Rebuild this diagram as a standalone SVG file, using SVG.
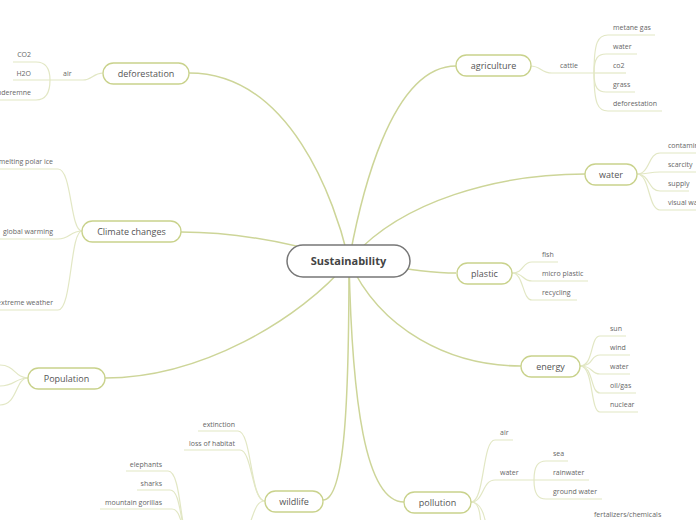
<svg xmlns="http://www.w3.org/2000/svg" width="696" height="520" viewBox="0 0 696 520">
<style>
.main{fill:none;stroke:#cdd598;stroke-width:1.5}
.sub{fill:none;stroke:#e2e7c4;stroke-width:1.2}
.node rect{fill:#fff;stroke:#c9d28c;stroke-width:1.3}
.node text{font-family:"Open Sans","DejaVu Sans",sans-serif;font-size:9px;fill:#555;text-anchor:middle}
.leaf{font-family:"Open Sans","DejaVu Sans",sans-serif;font-size:7px;fill:#666}
.r{text-anchor:end}
</style>
<rect width="696" height="520" fill="#fff"/>
<g id="connectors">
<path class="main" d="M349,261 C360,200 390,66 456,66"/>
<path class="main" d="M349,261 C335,200 290,73 189,73"/>
<path class="main" d="M349,261 C300,245 240,232 181,232"/>
<path class="main" d="M349,261 C300,320 200,378 105,378"/>
<path class="main" d="M349,261 C349,400 345,500 323,500"/>
<path class="main" d="M349,261 C352,400 365,502 404,502"/>
<path class="main" d="M349,261 C380,330 450,366 521,366"/>
<path class="main" d="M349,261 C400,268 430,273 456,273"/>
<path class="main" d="M349,261 C400,200 500,174 585,174"/>
<!-- deforestation -->
<path class="sub" d="M103,73 C93,73 92,80 83,80 H50"/>
<path class="sub" d="M50,80 C50,68 46,62 36,62 H13"/>
<path class="sub" d="M50,80 H13"/>
<path class="sub" d="M50,80 C50,92 46,100 36,100 H0"/>
<!-- climate -->
<path class="sub" d="M82,231 C70,231 72,169 58,169 H0"/>
<path class="sub" d="M82,231 C70,231 70,239 58,239 H0"/>
<path class="sub" d="M82,231 C70,231 72,310 58,310 H0"/>
<!-- population -->
<path class="sub" d="M28,378 C15,378 15,365 0,365"/>
<path class="sub" d="M28,378 C15,378 15,386 0,386"/>
<path class="sub" d="M28,378 C15,378 18,405 0,405"/>
<!-- wildlife -->
<path class="sub" d="M265,501 C250,501 252,431 238,431 H198"/>
<path class="sub" d="M265,501 C252,501 252,450 240,450 H184"/>
<path class="sub" d="M265,501 C255,501 254,515 248,528"/>
<path class="sub" d="M186,535 C180,520 180,471 168,471 H126"/>
<path class="sub" d="M186,535 C180,520 180,490 170,490 H137"/>
<path class="sub" d="M186,535 C181,525 180,509 172,509 H100"/>
<!-- pollution -->
<path class="sub" d="M471,502 C485,502 482,440 495,440 H513"/>
<path class="sub" d="M471,502 C484,502 482,480 495,480 H534"/>
<path class="sub" d="M534,480 C534,466 538,461 546,461 H568"/>
<path class="sub" d="M534,480 H589"/>
<path class="sub" d="M534,480 C534,494 538,499 546,499 H602"/>
<path class="sub" d="M471,502 C478,502 480,510 481,525"/>
<path class="sub" d="M471,502 C480,502 484,512 486,525"/>
<!-- agriculture -->
<path class="sub" d="M530,66 C542,66 540,73 552,73 H594"/>
<path class="sub" d="M594,73 C594,42 598,35 608,35 H655"/>
<path class="sub" d="M594,73 C594,58 598,54 606,54 H637"/>
<path class="sub" d="M594,73 H626"/>
<path class="sub" d="M594,73 C594,88 598,92 606,92 H635"/>
<path class="sub" d="M594,73 C594,104 598,111 608,111 H662"/>
<!-- water -->
<path class="sub" d="M637,174 C650,174 648,153 660,153 H696"/>
<path class="sub" d="M637,174 C650,174 648,172 660,172 H696"/>
<path class="sub" d="M637,174 C650,174 648,191 660,191 H689"/>
<path class="sub" d="M637,174 C650,174 648,210 660,210 H696"/>
<!-- plastic -->
<path class="sub" d="M512,273 C524,273 522,262 532,262 H558"/>
<path class="sub" d="M512,273 C524,273 522,281 532,281 H588"/>
<path class="sub" d="M512,273 C524,273 522,300 532,300 H577"/>
<!-- energy -->
<path class="sub" d="M580,366 C594,366 590,336 600,336 H626"/>
<path class="sub" d="M580,366 C594,366 590,355 600,355 H630"/>
<path class="sub" d="M580,366 C594,366 590,374 600,374 H630"/>
<path class="sub" d="M580,366 C594,366 590,393 600,393 H636"/>
<path class="sub" d="M580,366 C594,366 590,412 600,412 H638"/>
</g>
<g id="sustainability"><rect x="287" y="245" width="123" height="32" rx="16" fill="#fff" stroke="#777" stroke-width="1.5"/><text x="348.5" y="265" font-family="'Open Sans','DejaVu Sans',sans-serif" font-size="11" font-weight="bold" fill="#444" text-anchor="middle">Sustainability</text></g>
<g id="agriculture" class="node"><rect x="456" y="55" width="75" height="21" rx="10.5"/><text x="493.5" y="68.5">agriculture</text></g>
<g id="deforestation" class="node"><rect x="103" y="63" width="86" height="21" rx="10.5"/><text x="146" y="76.5">deforestation</text></g>
<g id="climate" class="node"><rect x="82" y="221" width="99" height="21" rx="10.5"/><text x="131.5" y="234.5">Climate changes</text></g>
<g id="population" class="node"><rect x="28" y="368" width="77" height="21" rx="10.5"/><text x="66.5" y="381.5">Population</text></g>
<g id="wildlife" class="node"><rect x="265" y="491" width="58" height="21" rx="10.5"/><text x="294" y="504.5">wildlife</text></g>
<g id="pollution" class="node"><rect x="404" y="492" width="67" height="21" rx="10.5"/><text x="437.5" y="505.5">pollution</text></g>
<g id="energy" class="node"><rect x="521" y="356" width="59" height="21" rx="10.5"/><text x="550.5" y="369.5">energy</text></g>
<g id="plastic" class="node"><rect x="457" y="263" width="55" height="21" rx="10.5"/><text x="484.5" y="276.5">plastic</text></g>
<g id="water" class="node"><rect x="585" y="164" width="52" height="21" rx="10.5"/><text x="611" y="177.5">water</text></g>
<g id="labels">
<text class="leaf" x="63" y="75.5">air</text>
<text class="leaf r" x="31" y="57">CO2</text>
<text class="leaf r" x="31" y="75.5">H2O</text>
<text class="leaf r" x="31" y="94.5">underemne</text>
<text class="leaf r" x="53" y="164">melting polar ice</text>
<text class="leaf r" x="53" y="234">global warming</text>
<text class="leaf r" x="53" y="305">extreme weather</text>
<text class="leaf r" x="235" y="426.5">extinction</text>
<text class="leaf r" x="235" y="445.5">loss of habitat</text>
<text class="leaf r" x="162" y="466.5">elephants</text>
<text class="leaf r" x="162" y="485.5">sharks</text>
<text class="leaf r" x="162" y="504.5">mountain gorillas</text>
<text class="leaf" x="500" y="435">air</text>
<text class="leaf" x="500" y="475">water</text>
<text class="leaf" x="553" y="456">sea</text>
<text class="leaf" x="553" y="475">rainwater</text>
<text class="leaf" x="553" y="494">ground water</text>
<text class="leaf" x="594" y="516.5">fertalizers/chemicals</text>
<text class="leaf" x="560" y="68">cattle</text>
<text class="leaf" x="613" y="30">metane gas</text>
<text class="leaf" x="613" y="49">water</text>
<text class="leaf" x="613" y="68">co2</text>
<text class="leaf" x="613" y="87">grass</text>
<text class="leaf" x="613" y="106">deforestation</text>
<text class="leaf" x="668" y="148">contamination</text>
<text class="leaf" x="668" y="167">scarcity</text>
<text class="leaf" x="668" y="186">supply</text>
<text class="leaf" x="668" y="205">visual waste</text>
<text class="leaf" x="542" y="257">fish</text>
<text class="leaf" x="542" y="276">micro plastic</text>
<text class="leaf" x="542" y="295">recycling</text>
<text class="leaf" x="610" y="331">sun</text>
<text class="leaf" x="610" y="350">wind</text>
<text class="leaf" x="610" y="369">water</text>
<text class="leaf" x="610" y="388">oil/gas</text>
<text class="leaf" x="610" y="407">nuclear</text>
</g>
</svg>
